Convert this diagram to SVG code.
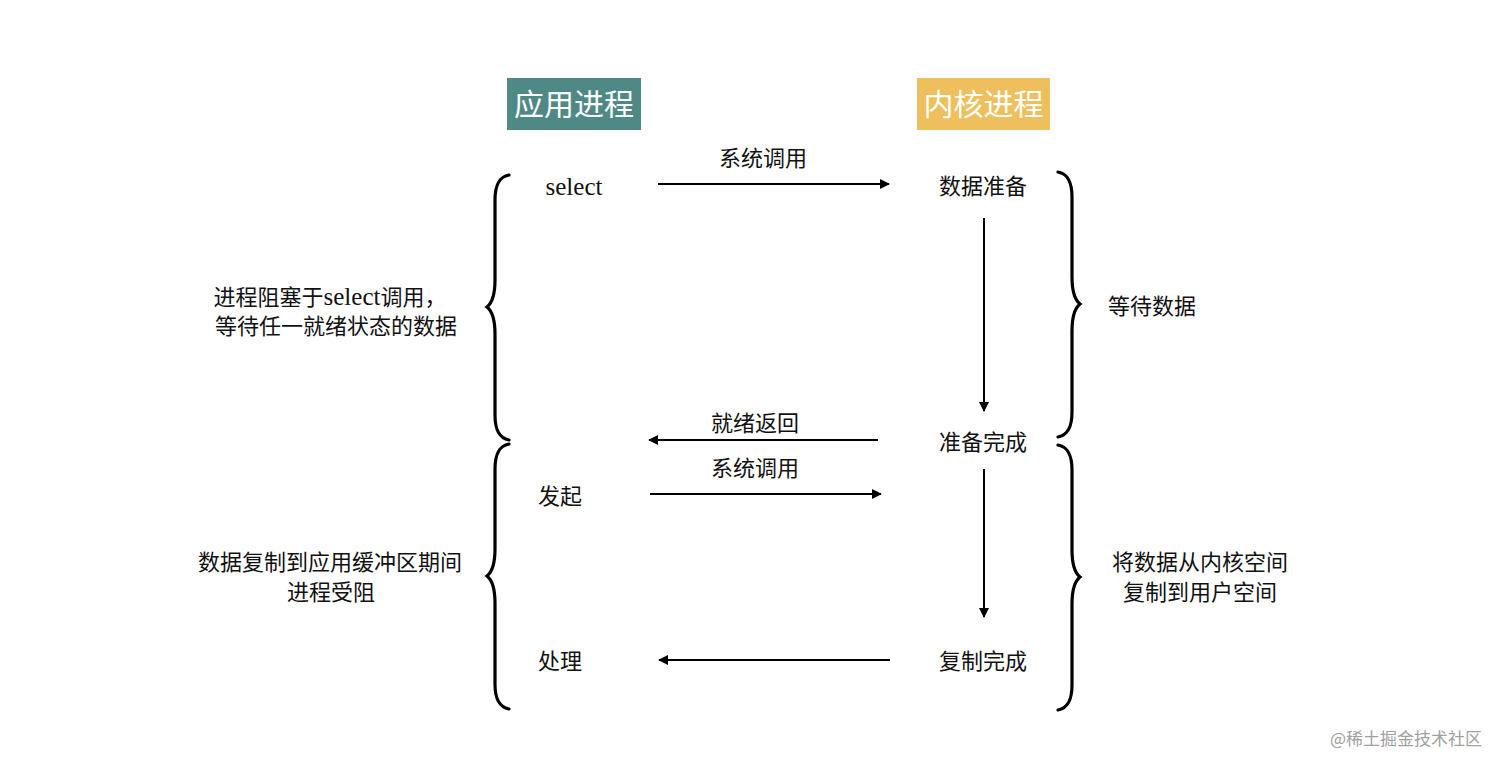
<svg xmlns="http://www.w3.org/2000/svg" width="1512" height="770" viewBox="0 0 1512 770">
<style>
.t{font-family:"Liberation Serif","Noto Sans CJK SC",serif;font-size:22px;fill:#111;}
.lat{font-size:25px;}
.h{font-family:"Noto Sans CJK SC",sans-serif;font-size:30px;fill:#fff;}
.c{stroke:#000;stroke-width:2;fill:none;}
.b{stroke:#000;stroke-width:3.2;fill:none;stroke-linecap:round;}
.wm{font-family:"Noto Sans CJK SC",sans-serif;font-size:17px;fill:#a0a0a0;}
</style>
<defs>
<marker id="ah" viewBox="0 0 10 10" refX="9" refY="5" markerWidth="5" markerHeight="5" orient="auto" markerUnits="strokeWidth">
<path d="M0,0 L10,5 L0,10 z" fill="#000"/>
</marker>
<path id="brace" d="M22,0 C12,2 8,10 8,25 L8,105 C8,120 5,128 0,132 C5,136 8,144 8,159 L8,240 C8,255 12,263 22,265"/>
</defs>
<rect width="1512" height="770" fill="#fff"/>

<g id="header-app">
<rect x="507" y="78" width="134" height="52" fill="#4f8985"/>
<text class="h" x="574" y="115" text-anchor="middle">应用进程</text>
</g>
<g id="header-kernel">
<rect x="917" y="78" width="133" height="52" fill="#eebf5c"/>
<text class="h" x="983.5" y="115" text-anchor="middle">内核进程</text>
</g>

<g id="node-select"><text class="t lat" x="574" y="195" text-anchor="middle">select</text></g>
<g id="node-prepare"><text class="t" x="983" y="194" text-anchor="middle">数据准备</text></g>
<g id="node-ready"><text class="t" x="983" y="450" text-anchor="middle">准备完成</text></g>
<g id="node-start"><text class="t" x="560" y="504" text-anchor="middle">发起</text></g>
<g id="node-handle"><text class="t" x="560" y="669" text-anchor="middle">处理</text></g>
<g id="node-copydone"><text class="t" x="983" y="669" text-anchor="middle">复制完成</text></g>

<g id="note-left">
<use href="#brace" class="b" transform="translate(487,175)"/>
<use href="#brace" class="b" transform="translate(487,444)"/>
<text class="t" x="330" y="305" text-anchor="middle">进程阻塞于<tspan class="lat">select</tspan>调用，</text>
<text class="t" x="336" y="334" text-anchor="middle">等待任一就绪状态的数据</text>
<text class="t" x="330" y="570" text-anchor="middle">数据复制到应用缓冲区期间</text>
<text class="t" x="331" y="600" text-anchor="middle">进程受阻</text>
</g>
<g id="note-right">
<use href="#brace" class="b" transform="translate(1080,172) scale(-1,1)"/>
<use href="#brace" class="b" transform="translate(1080,445) scale(-1,1)"/>
<text class="t" x="1108" y="314">等待数据</text>
<text class="t" x="1200" y="570" text-anchor="middle">将数据从内核空间</text>
<text class="t" x="1200" y="600" text-anchor="middle">复制到用户空间</text>
</g>

<g id="connectors">
<line class="c" x1="658" y1="184" x2="889" y2="184" marker-end="url(#ah)"/>
<text class="t" x="763" y="166" text-anchor="middle">系统调用</text>
<line class="c" x1="984" y1="218" x2="984" y2="411" marker-end="url(#ah)"/>
<line class="c" x1="878" y1="440" x2="649" y2="440" marker-end="url(#ah)"/>
<text class="t" x="755" y="431" text-anchor="middle">就绪返回</text>
<line class="c" x1="650" y1="494" x2="881" y2="494" marker-end="url(#ah)"/>
<text class="t" x="755" y="476" text-anchor="middle">系统调用</text>
<line class="c" x1="984" y1="469" x2="984" y2="617" marker-end="url(#ah)"/>
<line class="c" x1="890" y1="660" x2="659" y2="660" marker-end="url(#ah)"/>
</g>

<text class="wm" x="1330" y="745">@稀土掘金技术社区</text>
</svg>
